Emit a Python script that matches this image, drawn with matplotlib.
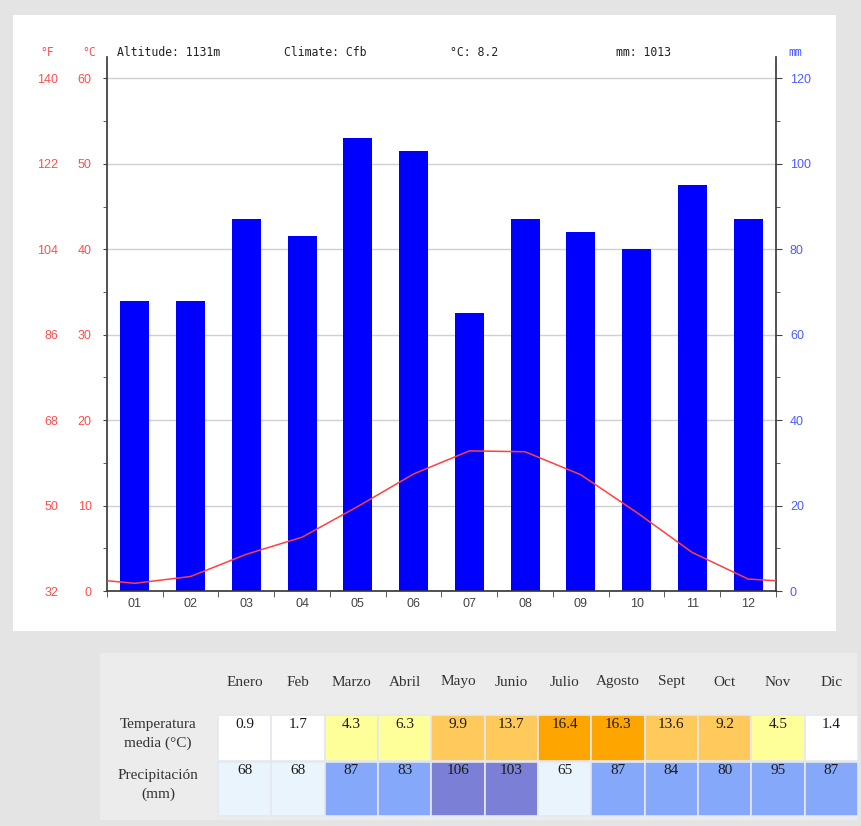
import numpy as np
import matplotlib.pyplot as plt
from matplotlib.patches import Rectangle

W, H = 861, 826

months = ['01', '02', '03', '04', '05', '06', '07', '08', '09', '10', '11', '12']
month_names = ['Enero', 'Feb', 'Marzo', 'Abril', 'Mayo', 'Junio',
               'Julio', 'Agosto', 'Sept', 'Oct', 'Nov', 'Dic']
temp = [0.9, 1.7, 4.3, 6.3, 9.9, 13.7, 16.4, 16.3, 13.6, 9.2, 4.5, 1.4]
precip = [68, 68, 87, 83, 106, 103, 65, 87, 84, 80, 95, 87]
temp_edge = 1.2  # where the curve meets the plot edges

altitude = 1131
climate = 'Cfb'
temp_mean = 8.2
precip_total = 1013

c_ticks = [0, 10, 20, 30, 40, 50, 60]
f_ticks = [32, 50, 68, 86, 104, 122, 140]
mm_ticks = [0, 20, 40, 60, 80, 100, 120]

RED = '#ff4d4d'
BLUE_TXT = '#4d5cff'


def fx(x):
    return x / W


def fy(y):
    return 1 - y / H


def temp_color(v):
    if v >= 16:
        return '#ffa500'
    if v >= 8:
        return '#ffc95c'
    if v >= 4:
        return '#ffff99'
    return '#ffffff'


def precip_color(v):
    if v > 100:
        return '#7b7fd6'
    if v >= 70:
        return '#85a8fb'
    return '#eaf4fd'


fig = plt.figure(figsize=(W / 100, H / 100), dpi=100, facecolor='#e4e4e4')

# white chart panel and grey table panel
fig.patches.append(Rectangle((fx(13), fy(631)), (836 - 13) / W, (631 - 15) / H,
                             transform=fig.transFigure, facecolor='white',
                             edgecolor='none', zorder=-5))
fig.patches.append(Rectangle((fx(100), fy(820)), (857 - 100) / W, (820 - 653) / H,
                             transform=fig.transFigure, facecolor='#ececec',
                             edgecolor='none', zorder=-5))

rect = [fx(107), fy(591), (776 - 107) / W, (591 - 57) / H]
x = np.arange(1, 13)

# precipitation bars (right axis)
ax_p = fig.add_axes(rect)
ax_p.set_facecolor('none')
ax_p.bar(x, precip, width=0.52, color='#0000ff', zorder=2)
ax_p.set_xlim(0.5, 12.5)
ax_p.set_ylim(0, 125)
ax_p.yaxis.tick_right()
ax_p.set_yticks(mm_ticks)
ax_p.set_yticks(np.arange(10, 121, 20), minor=True)
ax_p.grid(axis='y', which='major', color='#d0d0d0', lw=1, zorder=0)
ax_p.set_axisbelow(True)
ax_p.tick_params(axis='y', which='major', colors='#444444', labelcolor=BLUE_TXT,
                 length=4, pad=6, labelsize=9)
ax_p.tick_params(axis='y', which='minor', colors='#444444', length=3)
for lab in ax_p.get_yticklabels():
    lab.set_fontfamily('Liberation Sans')
ax_p.set_xticks(x)
ax_p.set_xticklabels(months, fontfamily='Liberation Sans', fontsize=9, color='#444444')
ax_p.set_xticks(np.arange(0.5, 12.6, 1), minor=True)
ax_p.tick_params(axis='x', which='major', length=0, pad=5)
ax_p.tick_params(axis='x', which='minor', length=4, color='#444444')
ax_p.spines['top'].set_visible(False)
for s in ['left', 'right', 'bottom']:
    ax_p.spines[s].set_color('#333333')
    ax_p.spines[s].set_linewidth(1.2)

# temperature line (left axis)
ax_t = fig.add_axes(rect, sharex=ax_p)
ax_t.set_facecolor('none')
line_x = np.concatenate([[0.5], x, [12.5]])
line_y = [temp_edge] + temp + [temp_edge]
ax_t.plot(line_x, line_y, color='#ff4040', lw=1.1, zorder=3)
ax_t.set_ylim(0, 62.5)
ax_t.set_yticks(c_ticks)
ax_t.set_yticks(np.arange(5, 60, 10), minor=True)
ax_t.tick_params(axis='y', which='major', colors='#444444', labelcolor=RED,
                 length=3, pad=8, labelsize=9)
ax_t.tick_params(axis='y', which='minor', colors='#444444', length=3)
for lab in ax_t.get_yticklabels():
    lab.set_fontfamily('Liberation Sans')
ax_t.tick_params(axis='x', which='both', bottom=False, labelbottom=False)
for s in ax_t.spines.values():
    s.set_visible(False)

# Fahrenheit labels
sec = ax_t.secondary_yaxis(-0.073, functions=(lambda c: c * 1.8 + 32,
                                              lambda f: (f - 32) / 1.8))
sec.set_yticks(f_ticks)
sec.tick_params(length=0, pad=0, labelcolor=RED, labelsize=9)
for lab in sec.get_yticklabels():
    lab.set_fontfamily('Liberation Sans')
sec.spines['left'].set_visible(False)

# header line
hdr = dict(fontfamily='DejaVu Sans Mono', fontsize=8.3, va='center')
fig.text(fx(40), fy(52), '°F', color=RED, **hdr)
fig.text(fx(82), fy(52), '°C', color=RED, **hdr)
fig.text(fx(117), fy(52), f'Altitude: {altitude}m', color='#222222', **hdr)
fig.text(fx(284), fy(52), f'Climate: {climate}', color='#222222', **hdr)
fig.text(fx(450), fy(52), f'°C: {temp_mean}', color='#222222', **hdr)
fig.text(fx(616), fy(52), f'mm: {precip_total}', color='#222222', **hdr)
fig.text(fx(788), fy(52), 'mm', color=BLUE_TXT, **hdr)

# table
tab = fig.add_axes([0, 0, 1, 1])
tab.set_xlim(0, W)
tab.set_ylim(H, 0)
tab.axis('off')
tab.set_facecolor('none')

col0, col_w = 218, (858 - 218) / 12
rows = [(715, 761), (762, 816)]
serif = dict(fontfamily='Liberation Serif', fontsize=11, color='#333333',
             ha='center', va='center')
for i, name in enumerate(month_names):
    cx = col0 + col_w * (i + 0.5)
    tab.text(cx, 682, name, **serif)
    for (top, bot), val, col in [(rows[0], temp[i], temp_color(temp[i])),
                                 (rows[1], precip[i], precip_color(precip[i]))]:
        tab.add_patch(Rectangle((col0 + col_w * i, top), col_w, bot - top,
                                facecolor=col, edgecolor='#e4e8ee', lw=1.2))
        tab.text(cx, top + 9, f'{val}', fontfamily='Liberation Serif', fontsize=11,
                 color='#1a1a1a', ha='center', va='center')

tab.text(158, 734, 'Temperatura\nmedia (°C)', linespacing=1.6, **serif)
tab.text(158, 785, 'Precipitación\n(mm)', linespacing=1.6, **serif)

fig.savefig('out.png', dpi=100, facecolor=fig.get_facecolor())
